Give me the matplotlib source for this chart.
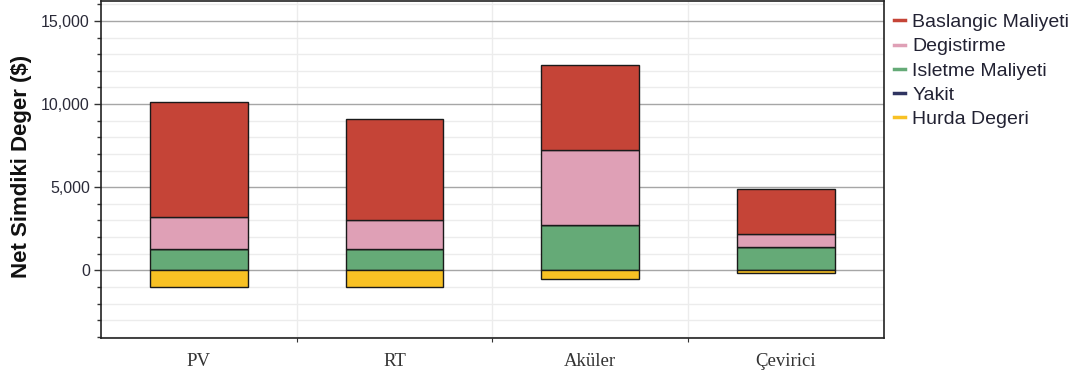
import matplotlib
matplotlib.use("Agg")
import matplotlib.pyplot as plt
from matplotlib.ticker import MultipleLocator, FuncFormatter
from matplotlib.lines import Line2D
import numpy as np

categories = ["PV", "RT", "Aküler", "Çevirici"]
baslangic = [6880, 6055, 5100, 2690]
degistirme = [1940, 1745, 4490, 800]
isletme = [1280, 1280, 2740, 1380]
yakit = [0, 0, 0, 0]
hurda = [-1000, -1000, -540, -180]

series_names = ["Baslangic Maliyeti", "Degistirme", "Isletme Maliyeti", "Yakit", "Hurda Degeri"]
colors = {
    "Baslangic Maliyeti": "#c54437",
    "Degistirme": "#dfa0b6",
    "Isletme Maliyeti": "#65aa77",
    "Yakit": "#2f3461",
    "Hurda Degeri": "#f8c124",
}

plt.rcParams["font.family"] = ["Liberation Sans", "DejaVu Sans"]

fig = plt.figure(figsize=(10.75, 3.83), dpi=100)
ax = fig.add_axes([0.094, 0.1175, 0.728, 0.8795])

x = np.arange(len(categories))
w = 0.5
edge = dict(edgecolor="#1a1a1a", linewidth=1.0, zorder=3)

# positive components stacked upward from zero
bottom = np.zeros(len(categories))
for name, vals in [("Isletme Maliyeti", isletme), ("Yakit", yakit),
                   ("Degistirme", degistirme), ("Baslangic Maliyeti", baslangic)]:
    vals = np.array(vals, dtype=float)
    ax.bar(x, vals, w, bottom=bottom, color=colors[name], **edge)
    bottom = bottom + vals

# salvage value drawn below zero
ax.bar(x, hurda, w, bottom=0, color=colors["Hurda Degeri"], **edge)

ax.set_xlim(-0.5, len(categories) - 0.5)
ax.set_ylim(-4070, 16190)

ax.yaxis.set_major_locator(MultipleLocator(5000))
ax.yaxis.set_minor_locator(MultipleLocator(1000))
ax.yaxis.set_major_formatter(FuncFormatter(lambda v, p: f"{int(v):,}"))
ax.grid(axis="y", which="major", color="#a6a6a6", linewidth=1.0, zorder=1)
ax.grid(axis="y", which="minor", color="#ececec", linewidth=1.0, zorder=0)

# category boundaries carry ticks and light vertical gridlines
bounds = np.arange(len(categories) - 1) + 0.5
ax.set_xticks(bounds)
ax.set_xticklabels([])
ax.set_xticks(x, minor=True)
ax.set_xticklabels(categories, minor=True, family=["Liberation Serif"], fontsize=13.5, color="#333333")
ax.tick_params(axis="x", which="minor", length=0, pad=11)
ax.tick_params(axis="x", which="major", length=3, direction="out", color="#333333")
for b in bounds:
    ax.axvline(b, color="#ececec", linewidth=1.0, zorder=0)

ax.tick_params(axis="y", which="major", length=5, width=1.0, labelsize=11.5, labelcolor="#2a2a38", color="#333333", pad=3)
ax.tick_params(axis="y", which="minor", length=3, width=1.0, color="#333333")

for s in ax.spines.values():
    s.set_color("#222222")
    s.set_linewidth(1.2)

ax.set_ylabel("Net Simdiki Deger ($)", fontsize=16, fontweight="bold", color="#111111")
ax.yaxis.set_label_coords(-0.088, 0.51)

handles = [Line2D([0], [0], color=colors[n], linewidth=2.5) for n in series_names]
leg = fig.legend(handles, series_names, loc="upper left", bbox_to_anchor=(0.8205, 0.995),
                 frameon=False, fontsize=14, handlelength=0.6, handletextpad=0.35,
                 labelspacing=0.34, borderaxespad=0.2)
for t in leg.get_texts():
    t.set_color("#222233")

fig.savefig("out.png", dpi=100)
